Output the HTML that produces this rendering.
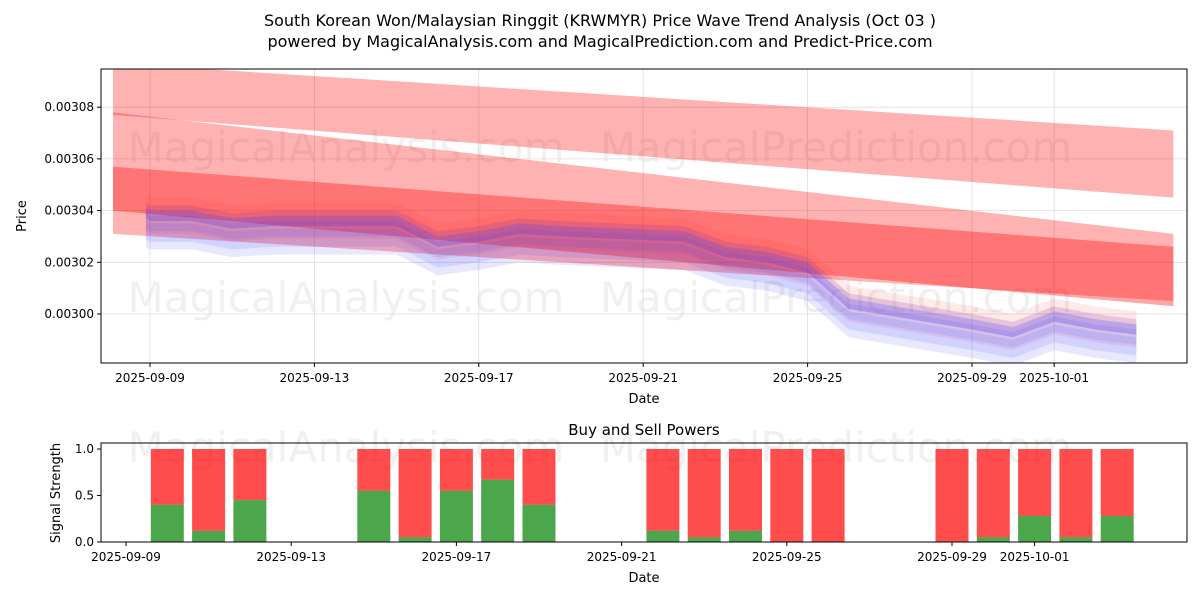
<!DOCTYPE html>
<html><head><meta charset="utf-8"><style>
body{margin:0;background:#fff;font-family:"Liberation Sans","DejaVu Sans",sans-serif}
svg text{font-family:"DejaVu Sans","Liberation Sans",sans-serif}
</style></head><body>
<svg id="chart" width="1200" height="600" xmlns="http://www.w3.org/2000/svg">
<defs><clipPath id="clipTop"><rect x="101" y="69" width="1086" height="294"/></clipPath></defs>
<text x="600" y="26" font-size="16" text-anchor="middle">South Korean Won/Malaysian Ringgit (KRWMYR) Price Wave Trend Analysis (Oct 03 )</text>
<text x="600" y="47" font-size="16" text-anchor="middle">powered by MagicalAnalysis.com and MagicalPrediction.com and Predict-Price.com</text>
<g id="topPanel"></g>
<g id="botPanel"></g>
</svg>
<script>
const priceDays=[-0.1,0,1,2,3,6,7,8,9,10,13,14,15,16,17,20,21,22,23,24];
const priceVals=[0.003039,0.003038,0.003038,0.003035,0.003036,0.003036,0.003028,0.003030,0.003033,0.003032,0.003030,0.003024,0.003022,0.003018,0.003004,0.002996,0.002993,0.002999,0.002996,0.002994];
const bandUpper1=[0.003097,0.003071]; const bandLower1=[0.003077,0.003045];
const bandUpper3=[0.003078,0.003031]; const bandLower3=[0.003031,0.003005];
const bandUpper2=[0.003057,0.003026]; const bandLower2=[0.003040,0.003003];
const yTicks=[0.00300,0.00302,0.00304,0.00306,0.00308];
const xTickDays=[0,4,8,12,16,20,22];
const xTickLabels=["2025-09-09","2025-09-13","2025-09-17","2025-09-21","2025-09-25","2025-09-29","2025-10-01"];
const sigDays=[1,2,3,6,7,8,9,10,13,14,15,16,17,20,21,22,23,24];
const buyVals=[0.4,0.12,0.45,0.55,0.05,0.55,0.67,0.4,0.12,0.05,0.12,0,0,0,0.05,0.28,0.05,0.28];
const sigTicks=[0,0.5,1.0];
const NS="http://www.w3.org/2000/svg";
function mk(p,t,a){const e=document.createElementNS(NS,t);for(const k in a)e.setAttribute(k,a[k]);p.appendChild(e);return e;}
const topG=document.getElementById('topPanel'),botG=document.getElementById('botPanel');
const X=d=>150+d*41.1, Y=v=>314-(v-0.003)/0.00002*51.7;
const X2=d=>126+d*41.3, Y2=v=>542-v*93;
[[346,148],[836,148],[346,298],[836,298],[346,448],[836,448]].forEach(([x,y])=>{const t=mk(topG,'text',{x:x,y:y+14,'font-size':42,fill:'#000','fill-opacity':0.06,'text-anchor':'middle'});t.textContent=x<500?'MagicalAnalysis.com':'MagicalPrediction.com';

});
yTicks.forEach(v=>{const l=mk(topG,'line',{x1:101,x2:1187,y1:Y(v),y2:Y(v),stroke:'#ddd','stroke-width':0.8});

});
xTickDays.forEach(d=>{const l=mk(topG,'line',{x1:X(d),x2:X(d),y1:69,y2:363,stroke:'#ddd','stroke-width':0.8});

});
const plot=mk(topG,'g',{'clip-path':'url(#clipTop)'});


function band(u,l,op,name){const x0=X(-0.9),x1=X(24.9);
const p=mk(plot,'polygon',{points:`${x0},${Y(u[0])} ${x1},${Y(u[1])} ${x1},${Y(l[1])} ${x0},${Y(l[0])}`,fill:'#ff0000','fill-opacity':op});

}
band(bandUpper1,bandLower1,0.3,'upper-red-band');
band(bandUpper3,bandLower3,0.3,'wide-red-band');
band(bandUpper2,bandLower2,0.35,'core-red-band');
function wave(off,w,col,op,name){const up=priceDays.map((d,i)=>`${X(d)},${Y(priceVals[i]+off+w)}`);
const lo=priceDays.map((d,i)=>`${X(d)},${Y(priceVals[i]+off-w)}`).reverse();
const p=mk(plot,'polygon',{points:up.concat(lo).join(' '),fill:col,'fill-opacity':op});

}
[[0.000004,0.000003],[0.000001,0.000003],[-0.000003,0.000004]].forEach(([o,w])=>wave(o,w,'#ff3333',0.1,'red-wave'));
[[0.000001,0.000003],[-0.000002,0.000004],[-0.000005,0.000005],[-0.000008,0.000005],[0,0.000002]].forEach(([o,w])=>wave(o,w,'#4444ff',0.13,'blue-wave'));
let r=mk(topG,'rect',{x:101,y:69,width:1086,height:294,fill:'none',stroke:'#000','stroke-width':1});

yTicks.forEach(v=>{mk(topG,'line',{x1:97,x2:101,y1:Y(v),y2:Y(v),stroke:'#000'});const t=mk(topG,'text',{x:94,y:Y(v)+4,'font-size':12,'text-anchor':'end'});t.textContent=v.toFixed(5);

});
xTickDays.forEach((d,i)=>{mk(topG,'line',{x1:X(d),x2:X(d),y1:363,y2:367,stroke:'#000'});const t=mk(topG,'text',{x:X(d),y:382,'font-size':12,'text-anchor':'middle'});t.textContent=xTickLabels[i];

});
let t=mk(topG,'text',{x:644,y:403,'font-size':13,'text-anchor':'middle'});t.textContent='Date';

t=mk(topG,'text',{x:26,y:216,'font-size':13,'text-anchor':'middle',transform:'rotate(-90 26 216)'});t.textContent='Price';

sigDays.forEach((d,i)=>{const x=X2(d)-16.5;
const s=mk(botG,'rect',{x:x,y:Y2(1),width:33,height:Y2(buyVals[i])-Y2(1),fill:'#ff0000','fill-opacity':0.7});


const b=mk(botG,'rect',{x:x,y:Y2(buyVals[i]),width:33,height:Y2(0)-Y2(buyVals[i]),fill:'#008000','fill-opacity':0.7});

});
r=mk(botG,'rect',{x:101,y:443,width:1086,height:99,fill:'none',stroke:'#000'});

sigTicks.forEach(v=>{mk(botG,'line',{x1:97,x2:101,y1:Y2(v),y2:Y2(v),stroke:'#000'});const t=mk(botG,'text',{x:94,y:Y2(v)+4,'font-size':12,'text-anchor':'end'});t.textContent=v.toFixed(1);

});
xTickDays.forEach((d,i)=>{mk(botG,'line',{x1:X2(d),x2:X2(d),y1:542,y2:546,stroke:'#000'});const t=mk(botG,'text',{x:X2(d),y:561,'font-size':12,'text-anchor':'middle'});t.textContent=xTickLabels[i];

});
t=mk(botG,'text',{x:644,y:435,'font-size':15,'text-anchor':'middle'});t.textContent='Buy and Sell Powers';

t=mk(botG,'text',{x:644,y:582,'font-size':13,'text-anchor':'middle'});t.textContent='Date';

t=mk(botG,'text',{x:60,y:493,'font-size':13,'text-anchor':'middle',transform:'rotate(-90 60 493)'});t.textContent='Signal Strength';

</script>
</body></html>
